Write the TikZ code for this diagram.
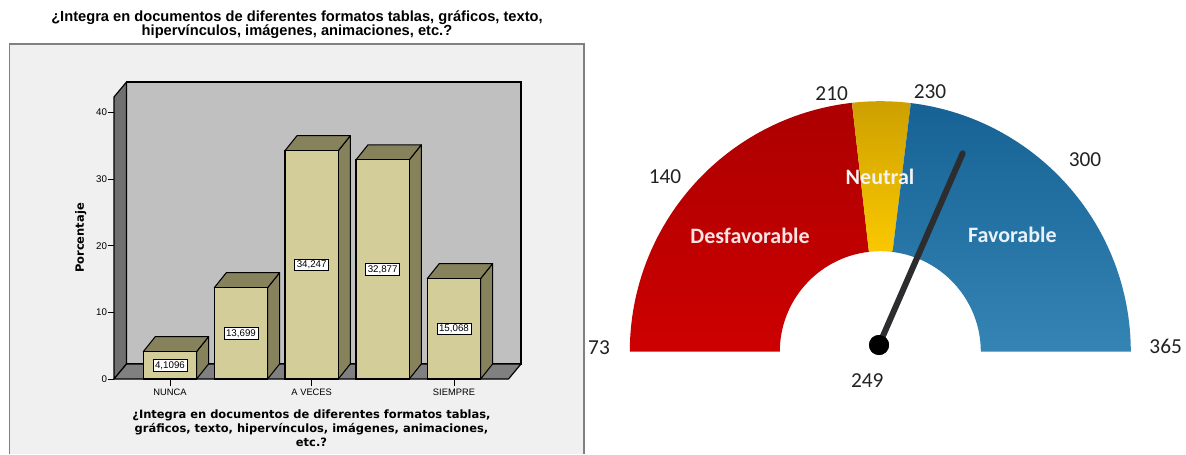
\documentclass[tikz,border=0pt]{standalone}
\usepackage{fontspec}
\setmainfont{Liberation Sans}
\newfontfamily\dejavu{DejaVu Sans}
\newfontfamily\gfont{Carlito}
\usetikzlibrary{calc}
\definecolor{framebg}{RGB}{240,240,240}
\definecolor{framegray}{RGB}{128,128,128}
\definecolor{wallgray}{RGB}{192,192,192}
\definecolor{sidegray}{RGB}{112,112,112}
\definecolor{floorgray}{RGB}{128,128,128}
\definecolor{barfront}{RGB}{211,206,153}
\definecolor{barside}{RGB}{134,130,92}
\definecolor{gRedTop}{RGB}{172,0,0}
\definecolor{gRedBot}{RGB}{205,0,0}
\definecolor{gYelTop}{RGB}{205,160,0}
\definecolor{gYelBot}{RGB}{250,200,0}
\definecolor{gBluTop}{RGB}{22,98,148}
\definecolor{gBluBot}{RGB}{52,132,180}
\definecolor{gText}{RGB}{34,34,34}
\definecolor{needlecol}{RGB}{45,45,48}
\begin{document}
\begin{tikzpicture}[x=0.75pt,y=0.75pt,
  wall/.style={fill=wallgray,draw=black,line width=1.1pt},
  sidewall/.style={fill=sidegray,draw=black,line width=0.9pt,line join=round},
  floorface/.style={fill=floorgray,draw=black,line width=0.9pt,line join=round},
  barf/.style={fill=barfront,draw=black,line width=0.8pt},
  bars/.style={fill=barside,draw=black,line width=0.8pt,line join=round},
  vallbl/.style={fill=white,draw=black,line width=0.6pt,inner xsep=1.6pt,inner ysep=0pt,minimum height=8.8pt,font=\fontsize{7.3}{8}\selectfont},
  ticklbl/.style={font=\fontsize{7.3}{8}\selectfont,text=black,inner sep=0pt},
  catlbl/.style={font=\fontsize{7}{8}\selectfont,text=black,inner sep=0pt},
  axtitle/.style={font=\dejavu\bfseries\fontsize{8.6}{10.5}\selectfont,align=center,inner sep=0pt},
  gnum/.style={font=\gfont\fontsize{16}{18}\selectfont,text=gText,inner sep=0pt},
  glbl/.style={font=\gfont\bfseries\fontsize{16.5}{18}\selectfont,inner sep=0pt},
  needle/.style={draw=needlecol,line width=4.5pt,line cap=round}
]
\useasboundingbox (0,0) rectangle (1186,-454);
\fill[white] (0,0) rectangle (1186,-454);
% ---------- left chart ----------
\fill[framebg] (9.3,-43.7) rectangle (584,-454);
\draw[framegray,line width=1.2pt] (9.3,-454) -- (9.3,-43.7) -- (584,-43.7) -- (584,-454);
\node[font=\bfseries\fontsize{11}{10.5}\selectfont,align=center,inner sep=0pt] (title) at (297,-25)
  {¿Integra en documentos de diferentes formatos tablas, gráficos, texto,\\hipervínculos, imágenes, animaciones, etc.?};
% walls
\draw[wall] (126.5,-82) rectangle (521,-364);
\draw[sidewall] (114,-97) -- (126.5,-82) -- (126.5,-364) -- (114,-379) -- cycle;
\draw[floorface] (114,-379) -- (126.5,-364) -- (521,-364) -- (508.5,-379) -- cycle;
% y ticks
\foreach \t in {0,10,20,30,40}{
  \draw[black,line width=0.7pt] (107.7,-379+\t*6.6667) -- (114,-379+\t*6.6667);
  \node[ticklbl,anchor=east] (ytick\t) at (107.2,-379+\t*6.6667) {\t};
}
% bars
\foreach \x/\v/\lab [count=\i] in {143.3/4.1096/{4,1096},214.3/13.699/{13,699},285/34.247/{34,247},356/32.877/{32,877},427.3/15.068/{15,068}}{
  \pgfmathsetmacro\h{\v*6.6667}
  \draw[bars] (\x+53.3,-379) -- (\x+65.3,-364) -- (\x+65.3,-364+\h) -- (\x+53.3,-379+\h) -- cycle;
  \draw[bars] (\x,-379+\h) -- (\x+12,-364+\h) -- (\x+65.3,-364+\h) -- (\x+53.3,-379+\h) -- cycle;
  \draw[barf] (\x,-379) rectangle (\x+53.3,-379+\h);
  \node[vallbl] (val\i) at (\x+26.65,-379+\h/2) {\lab};
}
% x ticks and labels
\foreach \x/\lab [count=\i] in {170/NUNCA,311.7/A VECES,454/SIEMPRE}{
  \draw[black,line width=0.7pt] (\x,-379) -- (\x,-385.5);
  \node[catlbl] (cat\i) at (\x,-392.7) {\lab};
}
\node[axtitle] (xtitle) at (311.5,-428.5)
  {¿Integra en documentos de diferentes formatos tablas,\\gráficos, texto, hipervínculos, imágenes, animaciones,\\etc.?};
\node[axtitle,rotate=90] (ytitle) at (80.7,-238) {Porcentaje};
% ---------- gauge ----------
\coordinate (g) at (880.3,-351.7);
\shade[top color=gRedTop,bottom color=gRedBot]
  ($(g)+(180:250.5)$) arc[start angle=180,end angle=96.5,radius=250.5]
  -- ($(g)+(96.5:100.5)$) arc[start angle=96.5,end angle=180,radius=100.5] -- cycle;
\shade[top color=gYelTop,bottom color=gYelBot]
  ($(g)+(96.5:250.5)$) arc[start angle=96.5,end angle=83,radius=250.5]
  -- ($(g)+(83:100.5)$) arc[start angle=83,end angle=96.5,radius=100.5] -- cycle;
\shade[top color=gBluTop,bottom color=gBluBot]
  ($(g)+(83:250.5)$) arc[start angle=83,end angle=0,radius=250.5]
  -- ($(g)+(0:100.5)$) arc[start angle=0,end angle=83,radius=100.5] -- cycle;
% labels
\node[glbl,text={rgb,255:red,248;green,228;blue,228}] (desf) at (750,-236) {Desfavorable};
\node[glbl,text={rgb,255:red,242;green,242;blue,242}] (neut) at (880,-177.3) {Neutral};
\node[glbl,text={rgb,255:red,232;green,242;blue,250}] (fav) at (1012.3,-235) {Favorable};
\node[gnum] (n73) at (599,-347.7) {73};
\node[gnum] (n140) at (665,-177) {140};
\node[gnum] (n210) at (831.7,-94) {210};
\node[gnum] (n230) at (930,-91.7) {230};
\node[gnum] (n300) at (1085,-160) {300};
\node[gnum] (n365) at (1165.7,-346) {365};
\node[gnum] (n249) at (867.3,-381) {249};
% needle
\coordinate (tip) at (962.7,-153.3);
\node[circle,fill=black,inner sep=0pt,minimum size=15pt] (dot) at (879,-345) {};
\draw[needle] (dot.center) -- (tip);
\node[circle,fill=black,inner sep=0pt,minimum size=15pt] (dot2) at (dot.center) {};
\end{tikzpicture}
\end{document}
